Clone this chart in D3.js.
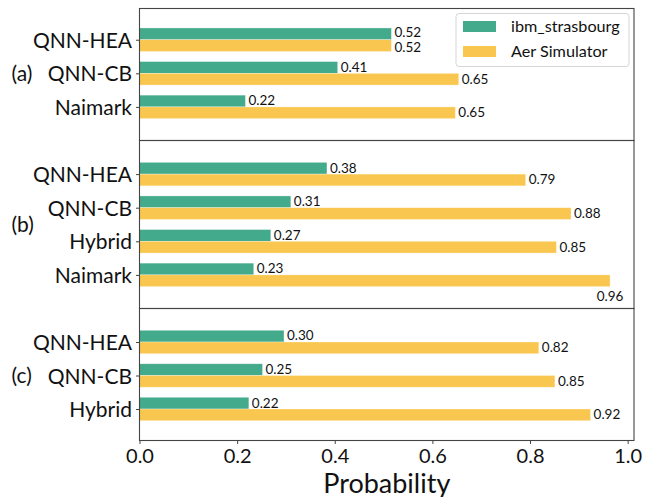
<!DOCTYPE html>
<html><head><meta charset="utf-8">
<script src="https://cdn.jsdelivr.net/npm/d3@7"></script>
<style>body{margin:0;background:#fff}svg{display:block}text{font-family:Lato,"DejaVu Sans",sans-serif;fill:#111}</style>
</head><body><svg id="c" width="657" height="497"></svg>
<script>
const panelNames = ["(a)", "(b)", "(c)"];
const catsA = ["QNN-HEA", "QNN-CB", "Naimark"];
const hwA = [0.516, 0.406, 0.217];
const simA = [0.516, 0.654, 0.647];
const catsB = ["QNN-HEA", "QNN-CB", "Hybrid", "Naimark"];
const hwB = [0.384, 0.310, 0.269, 0.234];
const simB = [0.791, 0.884, 0.854, 0.964];
const catsC = ["QNN-HEA", "QNN-CB", "Hybrid"];
const hwC = [0.296, 0.252, 0.224];
const simC = [0.818, 0.851, 0.924];
const seriesNames = ["ibm_strasbourg", "Aer Simulator"];
const colors = ["#43AA8B", "#F9C74F"];
const xTicks = [0, 0.2, 0.4, 0.6, 0.8, 1.0];

const svg = d3.select("#c");
const x = d3.scaleLinear().domain([0, 1.013]).range([139.5, 634]);
const frame = "#444";

const panels = [
  {name: panelNames[0], cats: catsA, hw: hwA, sim: simA, top: 8.5, bot: 140.5, dom: [-0.93, 3]},
  {name: panelNames[1], cats: catsB, hw: hwB, sim: simB, top: 140.5, bot: 308.5, dom: [-1, 4]},
  {name: panelNames[2], cats: catsC, hw: hwC, sim: simC, top: 308.5, bot: 440.5, dom: [-1, 2.94]}
];
const bh = 0.35;

panels.forEach((p, pi) => {
  const y = d3.scaleLinear().domain(p.dom).range([p.top, p.bot]);
  const g = svg.append("g");
  const rows = p.cats.map((c, i) => ({c, i, hw: p.hw[i], sim: p.sim[i]}));
  [["hw", 0], ["sim", 1]].forEach(([key, si]) => {
    g.selectAll(null).data(rows).enter().append("rect")
      .attr("x", x(0))
      .attr("y", d => si === 0 ? y(d.i - bh) : y(d.i))
      .attr("width", d => x(d[key]) - x(0))
      .attr("height", y(bh) - y(0))
      .attr("fill", colors[si])
      .attr("stroke", "#fff").attr("stroke-opacity", 0.5).attr("stroke-width", 0.6);
    g.selectAll(null).data(rows).enter().append("text")
      .attr("x", d => d[key] > 0.95 ? x(d[key]) : x(d[key]) + 3)
      .attr("y", d => {
        const close = Math.abs(d.hw - d.sim) < 0.03;
        let yc = si === 0 ? y(d.i - bh / 2) - 0.5 : y(d.i + bh / 2) - 0.5;
        if (close) yc += si === 0 ? -1.5 : 2.5;
        return d[key] > 0.95 ? y(d.i + bh) + 9 : yc;
      })
      .attr("dy", "0.36em")
      .attr("text-anchor", d => d[key] > 0.95 ? "middle" : "start")
      .attr("font-size", 13.5)
      .text(d => d[key].toFixed(2));
  });
  const ya = d3.axisLeft(y).tickValues(d3.range(p.cats.length)).tickFormat(i => p.cats[i]).tickSize(3.5).tickPadding(4);
  const ag = g.append("g").attr("transform", `translate(${x(0)},0)`).call(ya);
  ag.select(".domain").remove();
  ag.selectAll("line").attr("stroke", frame);
  ag.selectAll("text").attr("font-size", 21).attr("font-family", "Lato").attr("fill", "#111").attr("dy", "0.36em");
  g.append("rect").attr("x", x(0)).attr("y", p.top).attr("width", x.range()[1] - x(0)).attr("height", p.bot - p.top)
    .attr("fill", "none").attr("stroke", frame).attr("stroke-width", 1.1);
  const mid = p.cats.length % 2 === 1 ? y((p.cats.length - 1) / 2) : (p.top + p.bot) / 2;
  g.append("text").attr("x", 11.5).attr("y", mid).attr("dy", "0.36em").attr("font-size", 21).text(p.name);
});

const xa = d3.axisBottom(x).tickValues(xTicks).tickFormat(d3.format(".1f")).tickSize(3.5).tickPadding(5);
const xg = svg.append("g").attr("transform", "translate(0,440.5)").call(xa);
xg.select(".domain").remove();
xg.selectAll("line").attr("stroke", frame);
xg.selectAll("text").attr("font-size", 20).attr("font-family", "Lato").attr("fill", "#111");
svg.append("text").attr("x", (x.range()[0] + x.range()[1]) / 2).attr("y", 493)
  .attr("text-anchor", "middle").attr("font-size", 27).text("Probability");

const lg = svg.append("g").attr("transform", "translate(456,13.5)");
lg.append("rect").attr("width", 173).attr("height", 53).attr("rx", 3)
  .attr("fill", "#fff").attr("fill-opacity", 0.8).attr("stroke", "#d5d5d5");
seriesNames.forEach((s, i) => {
  lg.append("rect").attr("x", 7).attr("y", 7.5 + i * 25).attr("width", 33).attr("height", 11).attr("fill", colors[i]);
  lg.append("text").attr("x", 55).attr("y", 13 + i * 25).attr("dy", "0.36em").attr("font-size", 16.2).text(s);
});
</script></body></html>
